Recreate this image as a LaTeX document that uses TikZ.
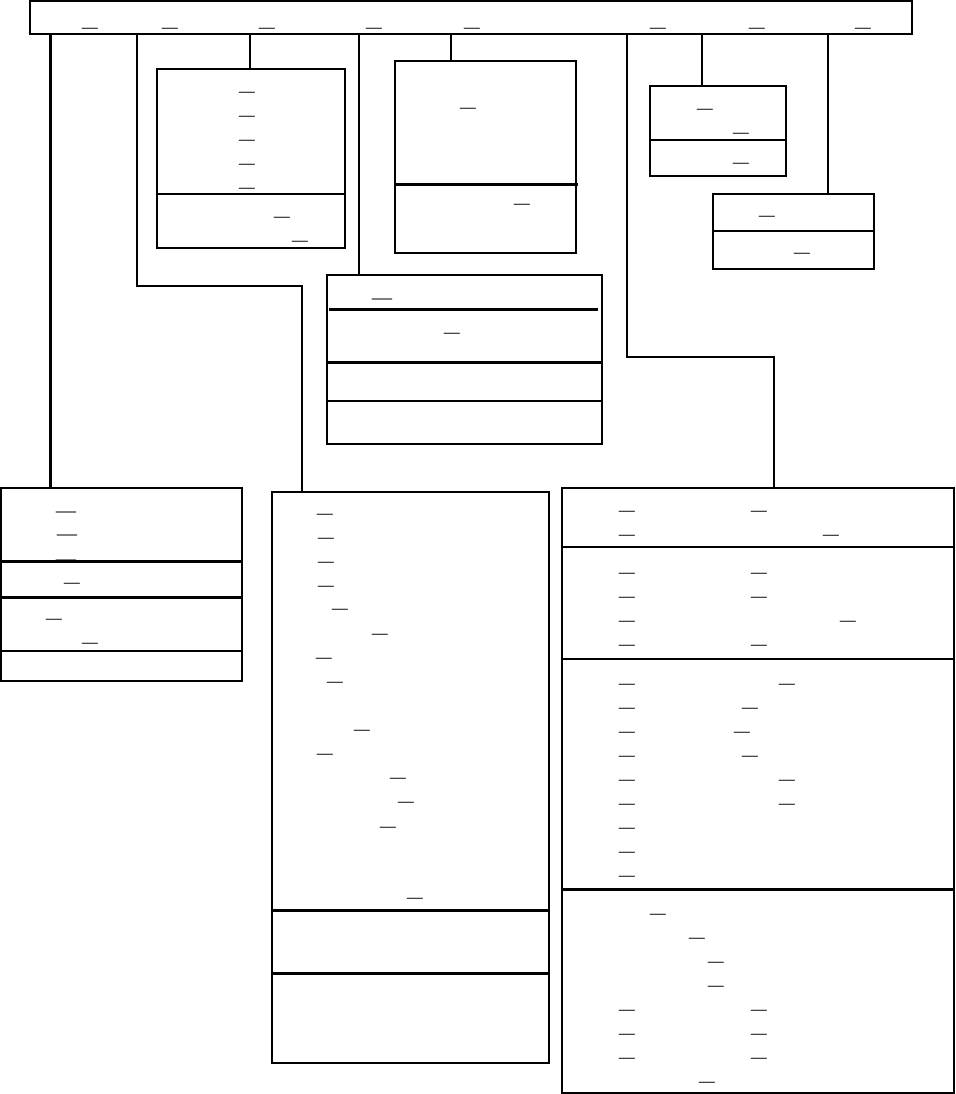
\documentclass[tikz,border=0pt]{standalone}
\usetikzlibrary{fit}
\begin{document}
\begin{tikzpicture}[x=0.5pt,y=-0.5pt,
  box/.style={draw, line width=1pt, inner sep=0pt},
  div/.style={line width=1pt},
  thickdiv/.style={line width=1.5pt},
  conn/.style={line width=0.8pt},
  us/.style={inner sep=0pt, font=\bfseries\fontsize{9}{10}\selectfont},
  usbig/.style={inner sep=0pt, font=\bfseries\fontsize{12}{13}\selectfont}]
\useasboundingbox (0,0) rectangle (956,1094);

% boxes
\node[box, fit={(30,1)(912,34)}] (top) {};
\node[box, fit={(157,69)(345,248)}] (A) {};
\node[box, fit={(395,61)(576,253)}] (B) {};
\node[box, fit={(650,86)(786,176)}] (C) {};
\node[box, fit={(713,194)(874,269)}] (D) {};
\node[box, fit={(327,275)(602,444)}] (E) {};
\node[box, fit={(1,488)(242,681)}] (F) {};
\node[box, fit={(272,492)(549,1063)}] (G) {};
\node[box, line width=1.2pt, fit={(562,488)(954,1093)}] (H) {};

% dividers
\draw[div] (A.west |- 0,194) -- (A.east |- 0,194);
\draw[thickdiv] (B.west |- 0,184) -- (578,184);
\draw[div] (C.west |- 0,140) -- (C.east |- 0,140);
\draw[div] (D.west |- 0,231) -- (D.east |- 0,231);
\draw[thickdiv] (329,309) -- (598,309);
\draw[thickdiv] (E.west |- 0,362) -- (E.east |- 0,362);
\draw[div] (E.west |- 0,401) -- (E.east |- 0,401);
\draw[thickdiv] (F.west |- 0,561) -- (F.east |- 0,561);
\draw[thickdiv] (F.west |- 0,597) -- (F.east |- 0,597);
\draw[div] (F.west |- 0,651) -- (F.east |- 0,651);
\draw[thickdiv] (G.west |- 0,910) -- (G.east |- 0,910);
\draw[thickdiv] (G.west |- 0,973) -- (548,973);
\draw[div] (H.west |- 0,547) -- (H.east |- 0,547);
\draw[div] (H.west |- 0,659) -- (H.east |- 0,659);
\draw[thickdiv] (H.west |- 0,889) -- (H.east |- 0,889);

% connectors
\coordinate (g1) at (137,286);
\coordinate (g2) at (302,286);
\coordinate (h1) at (627,357);
\coordinate (h2) at (774,357);
\draw[conn, line width=1.5pt] (top.south -| 50,0) -- (F.north -| 50,0);
\draw[conn] (top.south -| g1) -- (g1) -- (g2) -- (G.north -| g2);
\draw[conn, line width=1.2pt] (top.south -| 250,0) -- (A.north -| 250,0);
\draw[conn, line width=1.2pt] (top.south -| 359,0) -- (E.north -| 359,0);
\draw[conn] (top.south -| 451,0) -- (B.north -| 451,0);
\draw[conn] (top.south -| h1) -- (h1) -- (h2) -- (H.north -| h2);
\draw[conn] (top.south -| 702,0) -- (C.north -| 702,0);
\draw[conn] (top.south -| 828,0) -- (D.north -| 828,0);

% underscore texts
\foreach \x/\y [count=\i] in {66/511, 67/534, 66/559, 382/298}
  \node[usbig] (ub\i) at (\x,\y) {\_};
\foreach \x/\y [count=\i] in {
  90/28, 170/28, 267/28, 374/28, 472/28, 658/28, 757/28, 863/28,
  247/92, 247/116, 247/140, 247/164, 247/188, 282/217, 300/241,
  468/108, 522/204,
  705/109, 741/133, 741/163,
  767/216, 802/253,
  452/333,
  72/583, 54/619, 90/643,
  325/514, 326/538, 326/562, 326/586, 340/609, 380/634, 324/658, 335/682,
  362/730, 325/754, 398/778, 406/802, 388/827, 415/898,
  627/511, 759/511, 627/535, 831/535, 627/573, 759/573, 627/597, 759/597,
  627/621, 848/621, 627/645, 759/645,
  627/684, 787/684, 627/708, 750/708, 627/732, 742/732, 627/756, 750/756,
  627/780, 787/780, 627/804, 787/804, 627/828, 627/852, 627/876,
  658/914, 697/938, 716/962, 716/986,
  627/1010, 759/1010, 627/1034, 759/1034, 627/1058, 759/1058, 707/1082}
  \node[us] (u\i) at (\x,\y) {\_};
\end{tikzpicture}
\end{document}
